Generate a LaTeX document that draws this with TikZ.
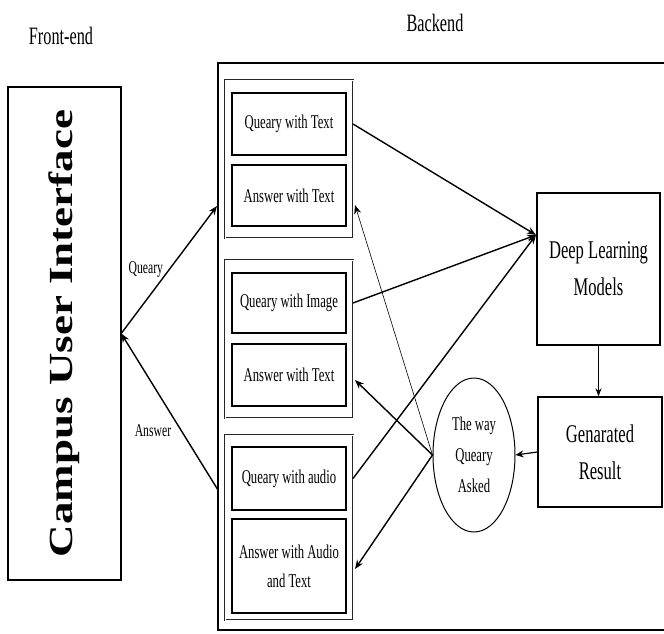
\documentclass[tikz,border=0pt]{standalone}
\usepackage{fontspec}
\setmainfont{Liberation Serif}[FakeStretch=0.65]
\newfontfamily\cuifont{Liberation Serif}
\usetikzlibrary{arrows.meta,shapes.geometric}
\tikzset{
	inbox/.style={draw,line width=1.6pt,minimum width=114pt,align=center,font=\fontsize{19.5}{29}\selectfont},
	grpbox/.style={draw=black!85,double,double distance=0.9pt,line width=0.8pt},
	bigbox/.style={draw,line width=1.4pt,align=center,font=\fontsize{25.5}{37}\selectfont},
	link/.style={line width=1.4pt,-{Stealth[length=9pt,width=7pt]}},
	thinlink/.style={line width=0.6pt,-{Stealth[length=9pt,width=7pt]}}
}
\begin{document}
\begin{tikzpicture}[x=1pt,y=-1pt]
		\useasboundingbox (0,0) rectangle (664,633);
		\node (front) at (61,36) {\fontsize{25}{28}\selectfont Front-end};
		\node (back) at (435,23) {\fontsize{25}{28}\selectfont Backend};
		\draw[line width=2.4pt] (8,87) rectangle (121,580);
		\node (cui) [inner sep=0pt,minimum width=113pt,minimum height=493pt] at (64.5,333.5) {};
		\node [rotate=90] at (cui.center) {\scalebox{1}[0.75]{\cuifont\bfseries\fontsize{45}{45}\selectfont Campus User Interface}};
		\draw[line width=2.6pt] (690,63) -- (218,63) -- (218,630) -- (690,630);
		\draw[grpbox] (225,80) rectangle (353,238);
		\draw[grpbox] (225,260) rectangle (353,418);
		\draw[grpbox] (225,435) rectangle (353,620);
		\coordinate (g1) at (353,159);
		\coordinate (g2) at (353,339);
		\coordinate (g3) at (353,527);
		\node (qt) [inbox,minimum height=62pt] at (289,124) {Queary with Text};
		\node (at1) [inbox,minimum height=61pt] at (289,195.5) {Answer with Text};
		\node (qi) [inbox,minimum height=60pt] at (289,303) {Queary with Image};
		\node (at2) [inbox,minimum height=62pt] at (289,375) {Answer with Text};
		\node (qa) [inbox,minimum height=63pt] at (289,478.5) {Queary with audio};
		\node (aat) [inbox,minimum height=94pt] at (289,566) {Answer with Audio\\and Text};
		\node (dl) [bigbox,minimum width=123pt,minimum height=152pt] at (598.5,269) {Deep Learning\\Models};
		\node (gen) [bigbox,minimum width=124pt,minimum height=110pt] at (600,452) {Genarated\\Result};
		\node (way) [draw,line width=1pt,ellipse,minimum width=82pt,minimum height=154pt,inner sep=0pt,align=center,font=\fontsize{19.5}{31}\selectfont] at (474,455) {The way\\Queary\\Asked};
		\coordinate (qin) at (217,206);
		\coordinate (aout) at (218,490);
		\coordinate (dlin) at (536,235);
		\coordinate (a1in) at (355,205);
		\coordinate (a2in) at (355,380);
		\coordinate (a3in) at (355,569);
		\draw[link] (cui.east) -- node[pos=0.5,left=2pt,font=\fontsize{18}{20}\selectfont] {Queary} (qin);
		\draw[link] (aout) -- node[pos=0.38,left=6pt,font=\fontsize{18}{20}\selectfont] {Answer} (cui.east);
		\draw[link] (qt.east -| g1) -- (dlin);
		\draw[link] (qi.east -| g2) -- (dlin);
		\draw[link] (qa.east -| g3) -- (dlin);
		\draw[line width=1pt,-{Stealth[length=8pt,width=6pt]}] (dl.south) -- (dl.south |- gen.north);
		\draw[line width=1.2pt,-{Stealth[length=8pt,width=7pt]}] (gen.west) -- (way.east);
		\draw[thinlink] (way.west) -- (a1in);
		\draw[link] (way.west) -- (a2in);
		\draw[link] (way.west) -- (a3in);
\end{tikzpicture}
\end{document}
